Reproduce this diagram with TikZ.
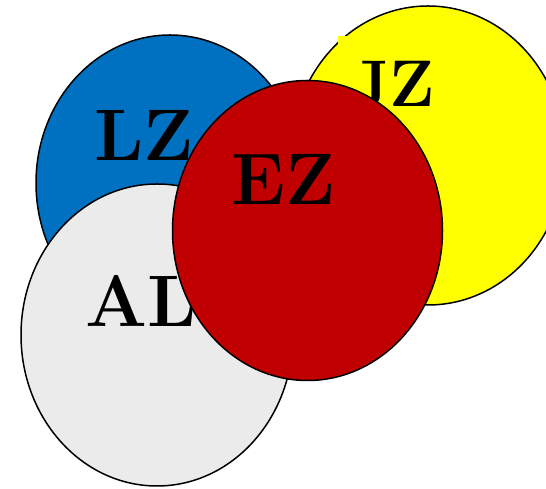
\documentclass[tikz,border=0pt]{standalone}
\definecolor{zblue}{RGB}{0,112,192}
\definecolor{zred}{RGB}{192,0,0}
\definecolor{zyellow}{RGB}{255,255,0}
\definecolor{zgray}{RGB}{235,235,235}
\begin{document}
\begin{tikzpicture}[x=1pt,y=1pt,
  zone/.style={draw=black,line width=1.5pt},
  lbl/.style={anchor=base,inner sep=0pt,font=\fontsize{73}{80}\selectfont\bfseries}]
\useasboundingbox (0,0) rectangle (546,489);
\clip (0,0) rectangle (546,489);
% yellow zone
\draw[zone,fill=zyellow] (428,333.5) ellipse [x radius=137,y radius=149.5];
\node[lbl,font=\fontsize{66}{72}\selectfont\bfseries,fill=zyellow,inner xsep=13pt,inner ysep=26pt] (jz) at (393,382) {JZ};
% blue zone
\draw[zone,fill=zblue] (170,306) ellipse [x radius=134,y radius=148];
\node[lbl] (lz) at (144,328) {LZ};
% gray zone
\draw[zone,fill=zgray] (157,154) ellipse [x radius=136,y radius=151];
\node[lbl] (al) at (141,162) {AL};
% red zone
\draw[zone,fill=zred] (307.5,258.5) ellipse [x radius=135,y radius=150];
\node[lbl] (ez) at (284,284) {EZ};
\end{tikzpicture}
\end{document}
